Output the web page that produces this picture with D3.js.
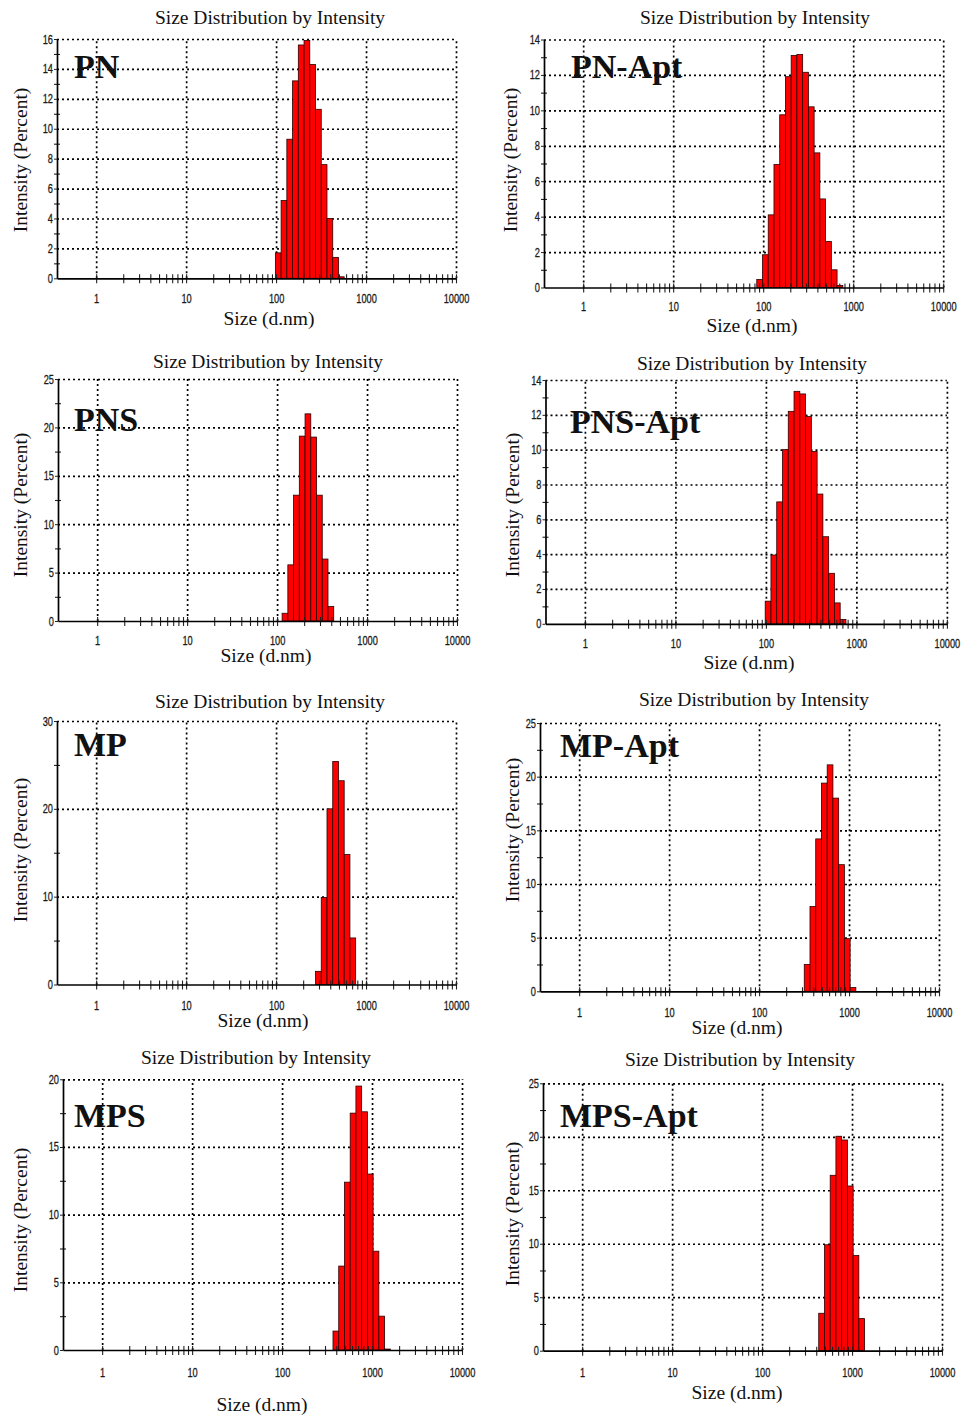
<!DOCTYPE html>
<html>
<head>
<meta charset="utf-8">
<script src="https://cdn.jsdelivr.net/npm/d3@7"></script>
<style>
body { margin: 0; background: #fff; }
svg { display: block; }
.tk { font-family: "Liberation Sans", Arial, sans-serif; font-size: 12.5px; fill: #1a1a1a; stroke: #1a1a1a; stroke-width: 0.3px; }
.serif { font-family: "Liberation Serif", "Times New Roman", serif; fill: #111; }
</style>
</head>
<body>
<svg id="viz" width="962" height="1416"></svg>
<script>
// Malvern size classes (d.nm), bar centres
var sizeClasses = [0.4, 0.4632, 0.5365, 0.6213, 0.7195, 0.8332, 0.9649, 1.117, 1.294, 1.499,
	1.736, 2.010, 2.328, 2.696, 3.122, 3.615, 4.187, 4.849, 5.615, 6.503, 7.531, 8.721,
	10.10, 11.70, 13.54, 15.69, 18.17, 21.04, 24.36, 28.21, 32.67, 37.84, 43.82, 50.75,
	58.77, 68.06, 78.82, 91.28, 105.7, 122.4, 141.8, 164.2, 190.1, 220.2, 255.0, 295.3,
	342.0, 396.1, 458.7, 531.2, 615.1, 712.4, 825.0, 955.4, 1106, 1281, 1484, 1718, 1990,
	2305, 2669, 3091, 3580, 4145, 4801, 5560, 6439, 7456, 8635, 10000];

var xTickValues = [1, 10, 100, 1000, 10000];
var xTickLabels = ["1", "10", "100", "1000", "10000"];

var panelNames = ["PN", "PN-Apt", "PNS", "PNS-Apt", "MP", "MP-Apt", "MPS", "MPS-Apt"];

// first bar centre (d.nm) and intensities (%)
var pnStart = 105.7;
var pnValues = [1.7, 5.2, 9.3, 13.2, 15.6, 15.9, 14.3, 11.3, 7.6, 4.0, 1.4, 0.1];
var pnAptStart = 91.28;
var pnAptValues = [0.45, 1.85, 4.1, 6.95, 9.75, 11.9, 13.1, 13.15, 12.15, 10.2, 7.6, 5.0, 2.6, 1.0, 0.12];
var pnsStart = 122.4;
var pnsValues = [0.8, 5.8, 13.0, 19.1, 21.4, 19.0, 13.0, 6.4, 1.5];
var pnsAptStart = 105.7;
var pnsAptValues = [1.3, 3.95, 7.0, 10.0, 12.2, 13.35, 13.2, 11.9, 9.9, 7.45, 5.0, 2.9, 1.2, 0.25];
var mpStart = 295.3;
var mpValues = [1.5, 9.9, 20.0, 25.4, 23.2, 14.8, 5.3];
var mpAptStart = 342.0;
var mpAptValues = [2.5, 7.9, 14.2, 19.4, 21.1, 18.0, 11.8, 4.9, 0.35];
var mpsStart = 396.1;
var mpsValues = [1.4, 6.2, 12.4, 17.5, 19.5, 17.6, 13.0, 7.3, 2.5, 0.07];
var mpsAptStart = 458.7;
var mpsAptValues = [3.5, 9.9, 16.4, 20.05, 19.7, 15.4, 8.9, 3.0];

// y axis: max, labelled step, minor step
var yMaxes = [16, 14, 25, 14, 30, 25, 20, 25];
var yMajorSteps = [2, 2, 5, 2, 10, 5, 5, 5];
var yMinorSteps = [1, 1, 2.5, 1, 5, 2.5, 2.5, 2.5];

var starts = [pnStart, pnAptStart, pnsStart, pnsAptStart, mpStart, mpAptStart, mpsStart, mpsAptStart];
var series = [pnValues, pnAptValues, pnsValues, pnsAptValues, mpValues, mpAptValues, mpsValues, mpsAptValues];

// where each sub-plot sits on the page
var layout = [
	{x0: 57, x1: 456, y0: 39, y1: 278.3, tx: 270, ty: 24, lx: 269, ly: 325, yx: 27, yy: 160, gx: 74, gy: 78, dy: 24.5},
	{x0: 544, x1: 943.2, y0: 39.5, y1: 287.5, tx: 755, ty: 24, lx: 752, ly: 332, yx: 517, yy: 160, gx: 571, gy: 78, dy: 24},
	{x0: 58, x1: 457, y0: 379, y1: 621, tx: 268, ty: 368, lx: 266, ly: 662, yx: 27, yy: 505, gx: 74, gy: 431, dy: 24},
	{x0: 545.5, x1: 946.9, y0: 380, y1: 623.8, tx: 752, ty: 370, lx: 749, ly: 669, yx: 519, yy: 505, gx: 570, gy: 433, dy: 24},
	{x0: 57, x1: 456, y0: 721, y1: 984.5, tx: 270, ty: 708, lx: 263, ly: 1027, yx: 27, yy: 850, gx: 74, gy: 756, dy: 25.5},
	{x0: 540, x1: 939, y0: 723, y1: 991.3, tx: 754, ty: 706, lx: 737, ly: 1034, yx: 519, yy: 830, gx: 560, gy: 757, dy: 25.5},
	{x0: 63, x1: 462, y0: 1079.3, y1: 1350, tx: 256, ty: 1064, lx: 262, ly: 1411, yx: 27, yy: 1220, gx: 74, gy: 1127, dy: 27},
	{x0: 543, x1: 942, y0: 1083.3, y1: 1350.7, tx: 740, ty: 1066, lx: 737, ly: 1399, yx: 519, yy: 1214, gx: 560, gy: 1127, dy: 26}
];

var svg = d3.select("#viz");
svg.append("rect").attr("width", 962).attr("height", 1416).attr("fill", "#fff");

var DOTS = "2,3";
var SQUEEZE = 0.74; // tick digits are condensed in the original

function drawPanel(i) {
	var L = layout[i];
	var g = svg.append("g");

	var x = d3.scaleLog().domain([0.367, 10000]).range([L.x0, L.x1]);
	var y = d3.scaleLinear().domain([0, yMaxes[i]]).range([L.y1, L.y0]);

	var majors = d3.range(0, yMaxes[i] + 0.001, yMajorSteps[i]);
	var minors = d3.range(0, yMaxes[i] + 0.001, yMinorSteps[i]).filter(function(v) {
		return majors.indexOf(v) < 0;
	});

	// dotted grid (horizontal)
	g.append("g")
		.attr("transform", "translate(" + L.x0 + ",0)")
		.call(d3.axisLeft(y).tickValues(majors.slice(1)).tickSize(-(L.x1 - L.x0)).tickFormat(""))
		.call(function(s) {
			s.select(".domain").remove();
			s.selectAll("line").attr("stroke", "#000").attr("stroke-width", 1.7).attr("stroke-dasharray", DOTS);
		});

	// dotted grid (vertical)
	g.append("g")
		.attr("transform", "translate(0," + L.y1 + ")")
		.call(d3.axisBottom(x).tickValues(xTickValues).tickSize(-(L.y1 - L.y0)).tickFormat(""))
		.call(function(s) {
			s.select(".domain").remove();
			s.selectAll("line").attr("stroke", "#000").attr("stroke-width", 1.7).attr("stroke-dasharray", DOTS);
		});

	// bars
	var k0 = sizeClasses.indexOf(starts[i]);
	var bars = series[i].map(function(v, j) {
		var k = k0 + j;
		return {
			lo: Math.sqrt(sizeClasses[k - 1] * sizeClasses[k]),
			hi: Math.sqrt(sizeClasses[k] * sizeClasses[k + 1]),
			v: v
		};
	});
	g.selectAll("rect.bar").data(bars).enter().append("rect")
		.attr("class", "bar")
		.attr("x", function(d) { return x(d.lo); })
		.attr("width", function(d) { return x(d.hi) - x(d.lo); })
		.attr("y", function(d) { return y(d.v); })
		.attr("height", function(d) { return y(0) - y(d.v); })
		.attr("fill", "#ff0000")
		.attr("stroke", "#2a0000")
		.attr("stroke-width", 0.8);

	// x minor ticks, crossing the axis
	var xMinor = [];
	[1, 10, 100, 1000].forEach(function(dec) {
		for (var m = 1; m <= 9; m++) xMinor.push(dec * m);
	});
	xMinor.push(10000);
	g.append("g")
		.attr("transform", "translate(0," + (L.y1 - 4) + ")")
		.call(d3.axisBottom(x).tickValues(xMinor).tickSize(9).tickFormat(""))
		.call(function(s) {
			s.select(".domain").remove();
			s.selectAll("line").attr("stroke", "#222").attr("stroke-width", 1.1);
		});

	// x axis line + labels
	g.append("g")
		.attr("transform", "translate(0," + L.y1 + ")")
		.call(d3.axisBottom(x).tickValues(xTickValues).tickSize(0).tickPadding(L.dy - 9)
			.tickFormat(function(d, j) { return xTickLabels[j]; }))
		.call(function(s) {
			s.select(".domain").attr("stroke", "#000").attr("stroke-width", 1.7);
			s.selectAll("text").attr("class", "tk")
				.attr("transform", "scale(" + SQUEEZE + ",1)");
		});

	// y minor ticks, crossing the axis
	g.append("g")
		.attr("transform", "translate(" + (L.x0 + 3) + ",0)")
		.call(d3.axisLeft(y).tickValues(minors).tickSize(6).tickFormat(""))
		.call(function(s) {
			s.select(".domain").remove();
			s.selectAll("line").attr("stroke", "#222").attr("stroke-width", 1.1);
		});

	// y axis line + labels
	g.append("g")
		.attr("transform", "translate(" + L.x0 + ",0)")
		.call(d3.axisLeft(y).tickValues(majors).tickSize(3).tickPadding(1)
			.tickSizeOuter(0).tickFormat(d3.format("d")))
		.call(function(s) {
			s.select(".domain").attr("stroke", "#000").attr("stroke-width", 1.7);
			s.selectAll("line").attr("stroke", "#222");
			s.selectAll("text").attr("class", "tk")
				.attr("x", -4 / SQUEEZE)
				.attr("transform", "scale(" + SQUEEZE + ",1)");
		});

	// texts
	g.append("text").attr("class", "serif")
		.attr("x", L.tx).attr("y", L.ty)
		.attr("text-anchor", "middle").attr("font-size", 19.5)
		.text("Size Distribution by Intensity");

	g.append("text").attr("class", "serif")
		.attr("x", L.lx).attr("y", L.ly)
		.attr("text-anchor", "middle").attr("font-size", 19.5)
		.text("Size (d.nm)");

	g.append("text").attr("class", "serif")
		.attr("transform", "translate(" + L.yx + "," + L.yy + ") rotate(-90)")
		.attr("text-anchor", "middle").attr("font-size", 19.5)
		.text("Intensity (Percent)");

	g.append("text").attr("class", "serif")
		.attr("x", L.gx).attr("y", L.gy)
		.attr("font-size", 34).attr("font-weight", "bold")
		.attr("fill", "#000")
		.text(panelNames[i]);
}

for (var i = 0; i < panelNames.length; i++) {
	drawPanel(i);
}
</script>
</body>
</html>
